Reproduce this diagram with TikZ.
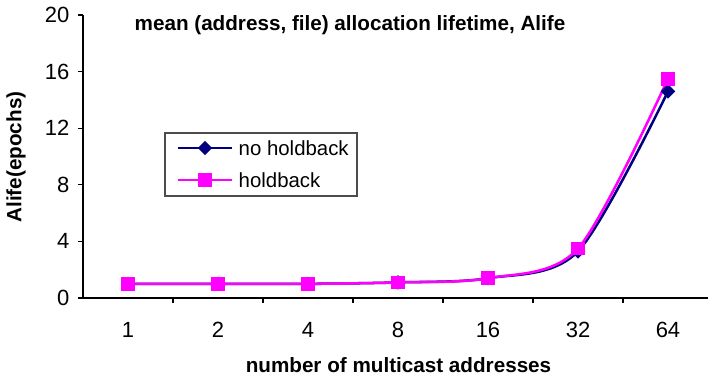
\documentclass[tikz,border=0pt]{standalone}
\usepackage{fontspec}
\setmainfont{Liberation Sans}
\usetikzlibrary{shapes.geometric}
\definecolor{navyc}{RGB}{0,0,128}
\definecolor{magc}{RGB}{255,0,255}
\begin{document}
\begin{tikzpicture}[x=0.75pt,y=-0.75pt,
  axisline/.style={line width=0.8pt,black},
  ticklab/.style={font=\fontsize{16.5}{18}\selectfont,text=black},
  leglab/.style={font=\fontsize{15.3}{17}\selectfont,text=black},
  boldlab/.style={font=\bfseries\fontsize{15.5}{17}\selectfont,text=black},
  navyline/.style={navyc,line width=1.9pt},
  magline/.style={magc,line width=1.9pt},
  dmark/.style={diamond,fill=navyc,inner sep=0pt,minimum width=11pt,minimum height=11pt},
  smark/.style={rectangle,fill=magc,inner sep=0pt,minimum size=10.3pt}]
\useasboundingbox (0,0) rectangle (708,382);
% axes
\draw[axisline] (83,15) -- (83,298) -- (708,298);
\foreach \v/\p in {0/298,4/241.4,8/184.8,12/128.2,16/71.6,20/15}{
  \draw[axisline] (78,\p) -- (83,\p);
  \node[ticklab,anchor=east] (y\v) at (74,\p) {\v};
}
\foreach \i in {1,...,7}{
  \draw[axisline] ({83+90*\i},298) -- ({83+90*\i},303);
}
\foreach \l [count=\i from 0] in {1,2,4,8,16,32,64}{
  \node[ticklab] (x\i) at ({128+90*\i},330) {\l};
}
% data
\draw[navyline] plot[smooth,tension=0.5] coordinates {(128,283.85) (218,283.85) (308,283.85) (398,282.4) (488,278.2) (578,251.3) (668,91.4)};
\draw[magline] plot[smooth,tension=0.5] coordinates {(128,283.85) (218,283.85) (308,283.85) (398,282.4) (488,278.2) (578,248.5) (668,78.7)};
\foreach \x/\y [count=\k] in {128/283.85,218/283.85,308/283.85,398/282.4,488/278.2,578/251.3,668/91.4}{
  \node[dmark] (d\k) at (\x,\y) {};
}
\foreach \x/\y [count=\k] in {128/283.85,218/283.85,308/283.85,398/282.4,488/278.2,578/248.5,668/78.7}{
  \node[smark] (s\k) at (\x,\y) {};
}
% titles
\node[boldlab] (title) at (350,25) {mean (address, file) allocation lifetime, Alife};
\node[boldlab,rotate=90] (ylab) at (16,157) {Alife(epochs)};
\node[boldlab] (xlab) at (398.5,365) {number of multicast addresses};
% legend
\draw[black!70,line width=0.8pt] (165,133) rectangle (357,196);
\coordinate (la1) at (178,148);
\coordinate (lb1) at (232,148);
\coordinate (la2) at (178,180);
\coordinate (lb2) at (232,180);
\draw[navyline] (la1) -- (lb1);
\draw[magline] (la2) -- (lb2);
\node[dmark] (ld) at (205,148) {};
\node[smark] (ls) at (205,180) {};
\node[leglab,anchor=west] (lt1) at (234,148) {no holdback};
\node[leglab,anchor=west] (lt2) at (234,180) {holdback};
\end{tikzpicture}
\end{document}
